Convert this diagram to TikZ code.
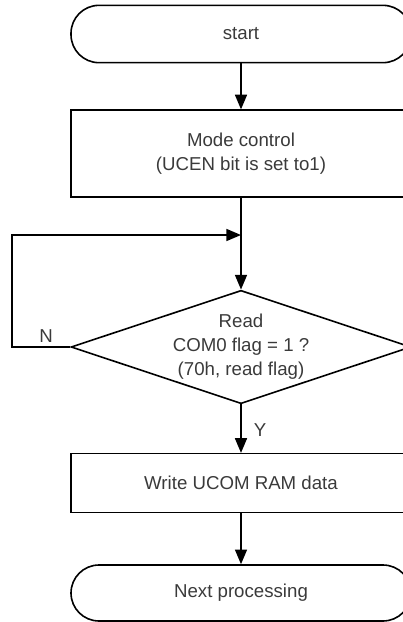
\documentclass[tikz,border=0pt]{standalone}
\usepackage{fontspec}
\setmainfont{Liberation Sans}
\usepackage{tikz}
\usetikzlibrary{arrows.meta, shapes.geometric}
\definecolor{ink}  {HTML}{000000}
\definecolor{label}{HTML}{3A3A3A}

\begin{document}
\begin{tikzpicture}[x=0.75pt, y=-0.75pt,
    every node/.style={font=\fontsize{14}{18}\selectfont, text=label, align=center},
    terminal/.style={draw=ink, line width=1.2pt, rounded corners=21pt,
      minimum width=255pt, minimum height=43pt, inner sep=0pt},
    process/.style={draw=ink, line width=1.2pt, minimum width=255pt, inner sep=0pt},
    decision/.style={draw=ink, line width=1.2pt, diamond, aspect=3,
      minimum width=255pt, minimum height=85pt, inner sep=0pt},
    flow/.style={draw=ink, line width=1.2pt, -{Triangle[length=11pt, width=9pt]}}]
      \clip (0,0) rectangle (403,622);
      \node[terminal] (start) at (241,34) {start};
      \node[process, minimum height=65pt] (mode) at (241,153.5) {Mode control\\(UCEN bit is set to1)};
      \node[decision] (read) at (241,347) {Read\\COM0 flag = 1 ?\\(70h, read flag)};
      \node[process, minimum height=44pt] (write) at (241,483) {Write UCOM RAM data};
      \node[terminal, minimum height=42pt] (next) at (241,593) {Next processing};
      \coordinate (join) at (241,235);
      \coordinate (loop) at (12,235);
      \draw[flow] (start) -- (mode);
      \draw[flow] (mode) -- (read);
      \draw[flow] (read.west) -| (loop) -- (join);
      \draw[flow] (read) -- (write);
      \draw[flow] (write) -- (next);
      \node (no) at (46,336) {N};
      \node (yes) at (260,430) {Y};
    \end{tikzpicture}
\end{document}
